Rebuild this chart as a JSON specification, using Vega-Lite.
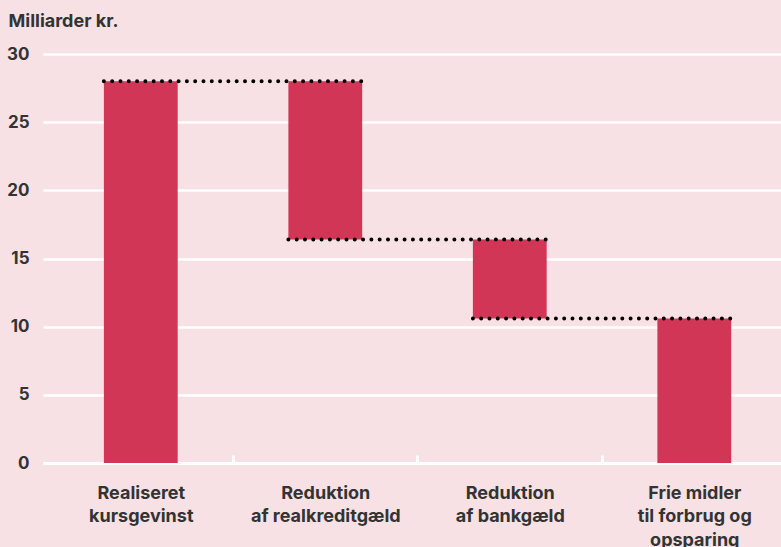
{
  "$schema": "https://vega.github.io/schema/vega-lite/v6.json",
  "width": 738,
  "height": 409,
  "autosize": {"type": "none"},
  "padding": {"left": 43, "top": 54, "right": 0, "bottom": 84},
  "background": "#f7e1e4",
  "config": {
    "view": {"stroke": null, "fill": "#f7e1e4"},
    "font": "Inter",
    "axis": {"labelFont": "Inter", "labelFontWeight": "bold", "labelColor": "#333333", "titleColor": "#333333", "titleFont": "Inter", "titleFontWeight": "bold"}
  },
  "datasets": {
    "bars": [
      {"cat": "Realiseret|kursgevinst", "start": 0, "end": 28.0},
      {"cat": "Reduktion|af realkreditgæld", "start": 28.0, "end": 16.4},
      {"cat": "Reduktion|af bankgæld", "start": 16.4, "end": 10.6},
      {"cat": "Frie midler|til forbrug og|opsparing", "start": 10.6, "end": 0}
    ],
    "links": [
      {"from": "Realiseret|kursgevinst", "to": "Reduktion|af realkreditgæld", "value": 28.0},
      {"from": "Reduktion|af realkreditgæld", "to": "Reduktion|af bankgæld", "value": 16.4},
      {"from": "Reduktion|af bankgæld", "to": "Frie midler|til forbrug og|opsparing", "value": 10.6}
    ]
  },
  "layer": [
    {
      "data": {"name": "bars"},
      "mark": {"type": "bar", "color": "#d23657"},
      "encoding": {
        "x": {
          "field": "cat", "type": "nominal", "sort": null,
          "scale": {"paddingInner": 0.6, "paddingOuter": 0.3, "align": 0.55},
          "axis": {
            "title": null, "labelAngle": 0, "labelExpr": "split(datum.label, '|')",
            "labelFontSize": 18, "labelLineHeight": 23.5, "labelPadding": 43, "labelBaseline": "alphabetic",
            "labelOffset": -92,
            "domainColor": "#ffffff", "domainWidth": 3,
            "ticks": true, "tickBand": "center", "tickOffset": 92, "tickColor": "#ffffff", "tickWidth": 3, "tickSize": -8, "tickOpacity": 1,
            "grid": false
          }
        },
        "y": {
          "field": "start", "type": "quantitative",
          "scale": {"domain": [0, 30], "nice": false},
          "axis": {
            "values": [0, 5, 10, 15, 20, 25, 30],
            "title": "Milliarder kr.", "titleAngle": 0, "titleAlign": "left", "titleBaseline": "alphabetic",
            "titleX": -35, "titleY": -28, "titleFontSize": 18,
            "labelFontSize": 17, "labelPadding": 14, "ticks": false, "domain": false,
            "gridColor": "#ffffff", "gridWidth": 2.5, "gridOpacity": 1
          }
        },
        "y2": {"field": "end"}
      }
    },
    {
      "data": {"name": "links"},
      "mark": {"type": "rule", "color": "#000000", "strokeWidth": 4, "strokeCap": "round", "strokeDash": [0, 8.3]},
      "encoding": {
        "x": {"field": "from", "type": "nominal", "sort": null, "bandPosition": 0},
        "x2": {"field": "to", "bandPosition": 1},
        "y": {"field": "value", "type": "quantitative"}
      }
    }
  ]
}
